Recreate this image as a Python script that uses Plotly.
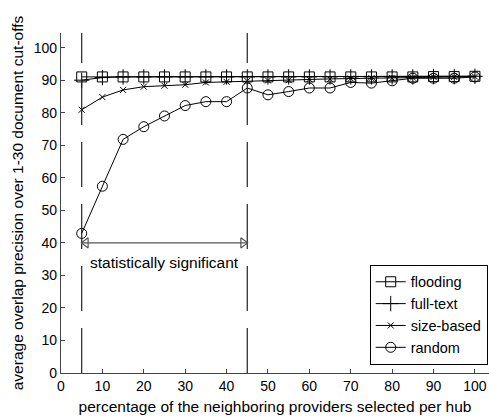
import plotly.graph_objects as go

x_pct = [5, 10, 15, 20, 25, 30, 35, 40, 45, 50, 55, 60, 65, 70, 75, 80, 85, 90, 95, 100]
flooding = [91.0, 91.0, 91.0, 91.0, 91.0, 91.0, 91.0, 91.0, 91.0, 91.0, 91.0, 91.0, 91.0, 91.0, 91.0, 91.0, 91.0, 91.1, 91.1, 91.2]
full_text = [90.0, 90.8, 91.0, 91.0, 91.0, 91.0, 91.0, 91.0, 91.0, 91.0, 91.0, 91.0, 91.0, 91.0, 91.0, 91.0, 91.0, 91.1, 91.1, 91.2]
size_based = [80.9, 84.8, 87.0, 88.0, 88.3, 88.6, 89.3, 89.5, 89.8, 89.9, 90.0, 90.3, 90.4, 90.5, 90.6, 90.6, 90.8, 91.0, 91.0, 91.1]
random_sel = [42.9, 57.4, 71.8, 75.7, 79.0, 82.2, 83.4, 83.4, 87.6, 85.5, 86.5, 87.6, 87.6, 89.3, 89.1, 89.8, 90.6, 90.6, 90.6, 91.0]

x_ticks = [0, 10, 20, 30, 40, 50, 60, 70, 80, 90, 100]
y_ticks = [0, 10, 20, 30, 40, 50, 60, 70, 80, 90, 100]

sig_start, sig_end = 5, 45
sig_arrow_y = 40
sig_label_y = 34
sig_label = "statistically significant"

FONT = "Liberation Sans, Arial, sans-serif"

fig = go.Figure()

series = [
    ("flooding", flooding, "square-open", 10),
    ("full-text", full_text, "cross-thin-open", 11),
    ("size-based", size_based, "x-thin-open", 6),
    ("random", random_sel, "circle-open", 10),
]
for name, ys, sym, sz in series:
    fig.add_trace(go.Scatter(
        x=x_pct, y=ys, name=name, mode="lines+markers",
        line=dict(color="black", width=1),
        marker=dict(symbol=sym, size=sz, color="black", line=dict(color="black", width=1)),
    ))

# dashed vertical boundary lines
for xv in (sig_start, sig_end):
    fig.add_trace(go.Scatter(
        x=[xv, xv], y=[0, 105], mode="lines", showlegend=False, hoverinfo="skip",
        line=dict(color="#222", width=1.2, dash="45px,17px"),
    ))

# double arrow
fig.add_trace(go.Scatter(
    x=[sig_start, sig_end], y=[sig_arrow_y, sig_arrow_y], mode="lines", showlegend=False,
    hoverinfo="skip", line=dict(color="#555", width=1.2),
))
fig.add_trace(go.Scatter(
    x=[sig_start + 1.0], y=[sig_arrow_y], mode="markers", showlegend=False, hoverinfo="skip",
    marker=dict(symbol="triangle-left-open", size=9, color="#555", line=dict(color="#555", width=1.2)),
))
fig.add_trace(go.Scatter(
    x=[sig_end - 1.0], y=[sig_arrow_y], mode="markers", showlegend=False, hoverinfo="skip",
    marker=dict(symbol="triangle-right-open", size=9, color="#555", line=dict(color="#555", width=1.2)),
))
fig.add_annotation(x=(sig_start + sig_end) / 2, y=sig_label_y, text=sig_label, showarrow=False,
                   font=dict(family=FONT, size=15.5, color="black"))

fig.update_layout(
    width=489, height=417,
    margin=dict(l=61, r=0, t=33, b=44),
    paper_bgcolor="white", plot_bgcolor="white",
    font=dict(family=FONT, size=15, color="black"),
    showlegend=True,
    legend=dict(
        x=0.997, y=0.024, xanchor="right", yanchor="bottom",
        bgcolor="white", bordercolor="black", borderwidth=1,
        font=dict(family=FONT, size=14.5, color="black"),
        itemwidth=30, tracegroupgap=0,
    ),
    xaxis=dict(
        range=[0, 103.4], tickvals=x_ticks, ticks="inside", ticklen=4, tickcolor="#444",
        showline=True, linecolor="#444", linewidth=1.3, showgrid=False, zeroline=False,
        title=dict(text="percentage of the neighboring providers selected per hub",
                   font=dict(family=FONT, size=15.5), standoff=8),
        tickfont=dict(family=FONT, size=14),
    ),
    yaxis=dict(
        range=[0, 104.5], tickvals=y_ticks, ticks="inside", ticklen=4, tickcolor="#444",
        showline=True, linecolor="#444", linewidth=1.3, showgrid=False, zeroline=False,
        title=dict(text="average overlap precision over 1-30 document cut-offs",
                   font=dict(family=FONT, size=15.5), standoff=6),
        tickfont=dict(family=FONT, size=14),
    ),
)

fig.write_html("out.html")
